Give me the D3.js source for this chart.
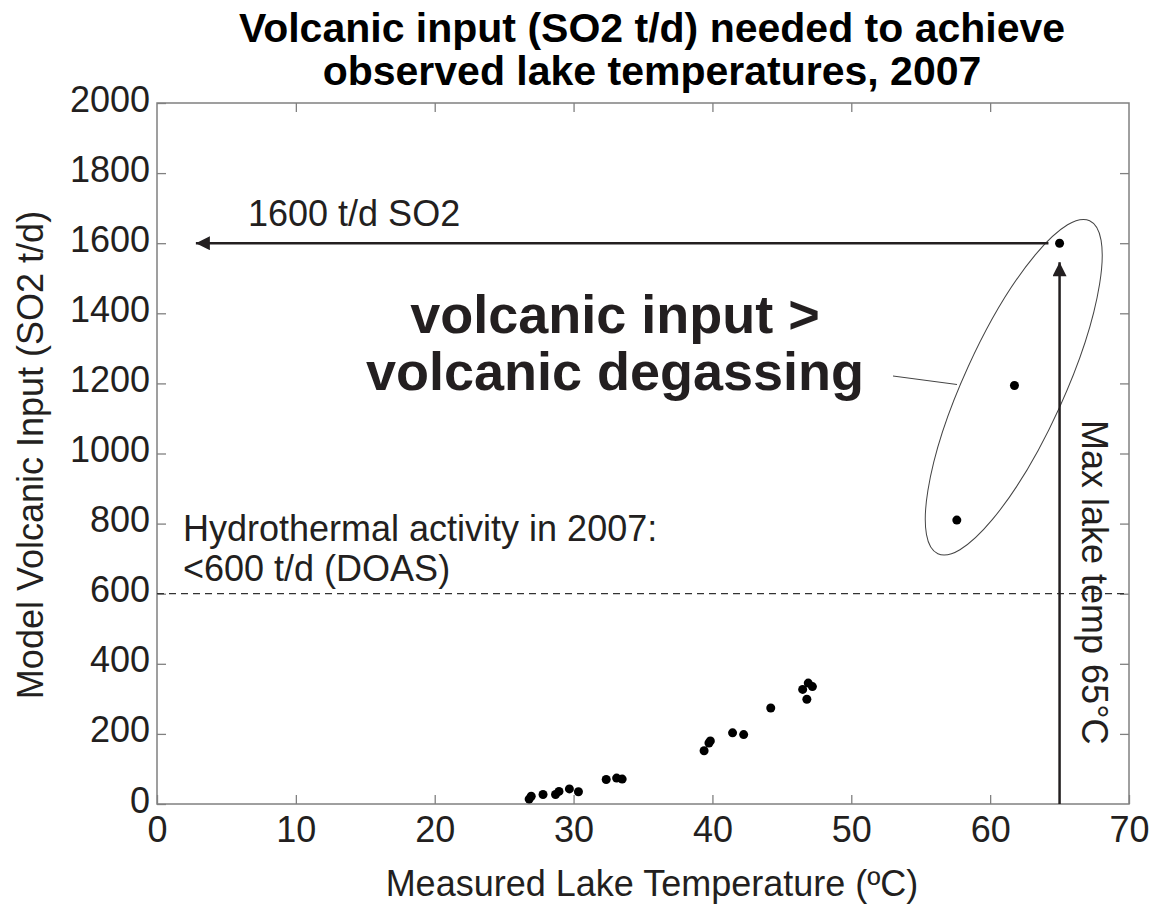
<!DOCTYPE html>
<html>
<head>
<meta charset="utf-8">
<script src="https://cdn.jsdelivr.net/npm/d3@7"></script>
<style>
  html, body { margin: 0; padding: 0; background: #ffffff; }
  svg { display: block; font-family: "Liberation Sans", Arial, sans-serif; }
</style>
</head>
<body>
<svg id="chart" width="1173" height="909"></svg>
<script>
// Measured lake temperature (°C) and the model SO2 input (t/d) needed to reach it
const lakeTemp = [26.8, 26.95, 27.8, 28.7, 28.95, 29.7, 30.35, 32.35, 33.1, 33.5,
                  39.4, 39.75, 39.85, 41.45, 42.25, 44.2, 46.5, 46.9, 47.2, 46.8,
                  57.6, 61.75, 65];
const so2Input = [14, 22, 27, 27, 36, 43, 35, 70, 74, 71,
                  152, 174, 180, 203, 198, 274, 327, 345, 335, 299,
                  810, 1194, 1600];

const xTicks = [0, 10, 20, 30, 40, 50, 60, 70];
const yTicks = [0, 200, 400, 600, 800, 1000, 1200, 1400, 1600, 1800, 2000];

const titleLines = ["Volcanic input (SO2 t/d) needed to achieve",
                    "observed lake temperatures, 2007"];
const xLabel = "Measured Lake Temperature (ºC)";
const yLabel = "Model Volcanic Input (SO2 t/d)";

// Reference levels drawn as annotations
const doasLimit = 600;          // hydrothermal activity in 2007 (DOAS)
const requiredInput = 1600;     // SO2 needed for the maximum lake temperature
const maxLakeTemp = 65;         // maximum lake temperature
const arrowLeftEnd = 2.8;       // where the 1600 t/d arrow points to
const arrowRightStart = 64.2;
const arrowTopEnd = 1546;
const ellipseCenter = [61.7, 1189];

const svg = d3.select("#chart");
const L = 157, R = 1129, T = 103, B = 804;

const x = d3.scaleLinear().domain([0, 70]).range([L, R]);
const y = d3.scaleLinear().domain([0, 2000]).range([B, T]);

const axisColor = "#808080";
const ink = "#231f20";
const tickLen = 9;
const fontSize = 36;

// Arrowhead markers
const defs = svg.append("defs");
defs.append("marker")
  .attr("id", "head")
  .attr("viewBox", "0 0 10 10")
  .attr("refX", 10).attr("refY", 5)
  .attr("markerUnits", "userSpaceOnUse")
  .attr("markerWidth", 15).attr("markerHeight", 14)
  .attr("orient", "auto")
  .append("path")
  .attr("d", "M0,0 L10,5 L0,10 Z")
  .attr("fill", ink);

// Plot frame
svg.append("rect")
  .attr("x", L).attr("y", T)
  .attr("width", R - L).attr("height", B - T)
  .attr("fill", "none")
  .attr("stroke", axisColor)
  .attr("stroke-width", 1.5);

// Axes with inward ticks on all four sides
function styleAxis(g) {
  g.select(".domain").remove();
  g.selectAll(".tick line").attr("stroke", axisColor).attr("stroke-width", 1.3);
}

const gx = svg.append("g")
  .attr("transform", `translate(0,${B})`)
  .call(d3.axisBottom(x).tickValues(xTicks).tickSize(-tickLen).tickFormat(d3.format("d")))
  .call(styleAxis);
gx.selectAll(".tick text")
  .attr("y", 38).attr("dy", 0)
  .attr("fill", ink)
  .style("font-size", fontSize + "px")
  .style("font-family", "Liberation Sans, Arial, sans-serif");

const gy = svg.append("g")
  .attr("transform", `translate(${L},0)`)
  .call(d3.axisLeft(y).tickValues(yTicks).tickSize(-tickLen).tickFormat(d3.format("d")))
  .call(styleAxis);
gy.selectAll(".tick text")
  .attr("x", -7).attr("dy", 0).attr("y", 8)
  .attr("text-anchor", "end")
  .attr("fill", ink)
  .style("font-size", fontSize + "px")
  .style("font-family", "Liberation Sans, Arial, sans-serif");

svg.append("g")
  .attr("transform", `translate(0,${T})`)
  .call(d3.axisTop(x).tickValues(xTicks.slice(1, -1)).tickSize(-tickLen).tickFormat(""))
  .call(styleAxis);

svg.append("g")
  .attr("transform", `translate(${R},0)`)
  .call(d3.axisRight(y).tickValues(yTicks.slice(1, -1)).tickSize(-tickLen).tickFormat(""))
  .call(styleAxis);

// DOAS reference line
svg.append("line")
  .attr("x1", x(0)).attr("x2", x(70))
  .attr("y1", y(doasLimit)).attr("y2", y(doasLimit))
  .attr("stroke", "#333")
  .attr("stroke-width", 1.2)
  .attr("stroke-dasharray", "7,5");

// Ellipse around the high-input group
const ec = [x(ellipseCenter[0]), y(ellipseCenter[1])];
svg.append("ellipse")
  .attr("cx", 0).attr("cy", 0)
  .attr("rx", 183).attr("ry", 50)
  .attr("transform", `translate(${ec[0]},${ec[1]}) rotate(-65.5)`)
  .attr("fill", "none")
  .attr("stroke", "#444")
  .attr("stroke-width", 1);

// Leader line from the annotation to the ellipse
svg.append("line")
  .attr("x1", 893).attr("y1", 376)
  .attr("x2", 957).attr("y2", 384.5)
  .attr("stroke", "#444")
  .attr("stroke-width", 1);

// Horizontal arrow: required SO2 input
svg.append("line")
  .attr("x1", x(arrowRightStart)).attr("x2", x(arrowLeftEnd))
  .attr("y1", y(requiredInput)).attr("y2", y(requiredInput))
  .attr("stroke", ink)
  .attr("stroke-width", 2.5)
  .attr("marker-end", "url(#head)");

// Vertical arrow: maximum lake temperature
svg.append("line")
  .attr("x1", x(maxLakeTemp)).attr("x2", x(maxLakeTemp))
  .attr("y1", y(0)).attr("y2", y(arrowTopEnd))
  .attr("stroke", ink)
  .attr("stroke-width", 2.5)
  .attr("marker-end", "url(#head)");

// Data points
svg.append("g")
  .selectAll("circle")
  .data(lakeTemp.map((t, i) => [t, so2Input[i]]))
  .join("circle")
  .attr("cx", d => x(d[0]))
  .attr("cy", d => y(d[1]))
  .attr("r", 4.5)
  .attr("fill", "#000");

// Title
svg.append("text")
  .attr("text-anchor", "middle")
  .attr("font-weight", "bold")
  .attr("font-size", 41)
  .attr("fill", "#000")
  .selectAll("tspan")
  .data(titleLines)
  .join("tspan")
  .attr("x", 652)
  .attr("y", (d, i) => 42 + i * 43)
  .text(d => d);

// Axis titles
svg.append("text")
  .attr("x", 652).attr("y", 896)
  .attr("text-anchor", "middle")
  .attr("font-size", fontSize)
  .attr("fill", ink)
  .text(xLabel);

svg.append("text")
  .attr("transform", "translate(43,455) rotate(-90)")
  .attr("text-anchor", "middle")
  .attr("font-size", fontSize)
  .attr("fill", ink)
  .text(yLabel);

// Annotations
svg.append("text")
  .attr("x", 248).attr("y", 226)
  .attr("font-size", fontSize)
  .attr("fill", ink)
  .text("1600 t/d SO2");

svg.append("text")
  .attr("text-anchor", "middle")
  .attr("font-weight", "bold")
  .attr("font-size", 54)
  .attr("fill", ink)
  .selectAll("tspan")
  .data(["volcanic input >", "volcanic degassing"])
  .join("tspan")
  .attr("x", 615)
  .attr("y", (d, i) => 333 + i * 57)
  .text(d => d);

svg.append("text")
  .attr("font-size", fontSize)
  .attr("fill", ink)
  .selectAll("tspan")
  .data(["Hydrothermal activity in 2007:", "<600 t/d (DOAS)"])
  .join("tspan")
  .attr("x", 183)
  .attr("y", (d, i) => 541 + i * 40)
  .text(d => d);

svg.append("text")
  .attr("transform", "translate(1082,420) rotate(90)")
  .attr("font-size", fontSize)
  .attr("fill", ink)
  .text("Max lake temp 65°C");
</script>
</body>
</html>
